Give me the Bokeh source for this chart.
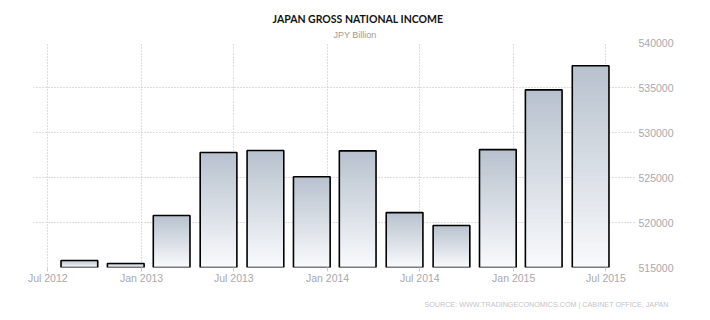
import datetime as dt
import numpy as np
from bokeh.plotting import figure
from bokeh.models import (ColumnDataSource, Range1d, FixedTicker,
                          DatetimeTickFormatter, BasicTickFormatter, Title)
from bokeh.core.properties import value
from bokeh.embed import file_html
from bokeh.resources import INLINE

# ---- data (JPY Billion, quarterly) ----
quarters = ["2012-09-01", "2012-12-01", "2013-03-01", "2013-06-01",
            "2013-09-01", "2013-12-01", "2014-03-01", "2014-06-01",
            "2014-09-01", "2014-12-01", "2015-03-01", "2015-06-01"]
gni = [515780, 515440, 520780, 527780, 528000, 525080,
       527960, 521100, 519670, 528100, 534740, 537410]
x_tick_dates = ["2012-07-01", "2013-01-01", "2013-07-01", "2014-01-01",
                "2014-07-01", "2015-01-01", "2015-07-01"]
y_ticks = [515000, 520000, 525000, 530000, 535000, 540000]

title_text = "JAPAN GROSS NATIONAL INCOME"
subtitle_text = "JPY Billion"
source_text = "SOURCE: WWW.TRADINGECONOMICS.COM | CABINET OFFICE, JAPAN"

# ---- helpers ----
def to_dt(s):
    return dt.datetime.strptime(s, "%Y-%m-%d")

def to_ms(d):
    return (d - dt.datetime(1970, 1, 1)).total_seconds() * 1000.0

x_centers = [to_dt(q) for q in quarters]
bar_days = 72
half = dt.timedelta(days=bar_days / 2)
base = y_ticks[0]

x_start = dt.datetime(2012, 6, 3)
x_end = dt.datetime(2015, 8, 30)

p = figure(width=710, height=320, x_axis_type="datetime",
           y_axis_location="right",
           x_range=Range1d(x_start, x_end),
           y_range=Range1d(y_ticks[0], y_ticks[-1]),
           min_border_left=33, min_border_right=74,
           min_border_top=42, min_border_bottom=53,
           output_backend="svg", toolbar_location=None)
p.outline_line_color = None
p.background_fill_color = "white"
p.border_fill_color = "white"

# ---- gradient bars (per-bar vertical gradient, dark at top) ----
top_rgb = np.array([184, 194, 206])
bot_rgb = np.array([250, 251, 253])
N = 40
lefts, rights, tops, bottoms, colors = [], [], [], [], []
for k in range(N):
    f = k / N
    c = top_rgb + (bot_rgb - top_rgb) * f
    col = "#%02x%02x%02x" % tuple(int(round(v)) for v in c)
    for xc, v in zip(x_centers, gni):
        lefts.append(xc - half)
        rights.append(xc + half)
        bottoms.append(base)
        tops.append(base + (v - base) * (1 - f))
        colors.append(col)
grad = ColumnDataSource(dict(left=lefts, right=rights, top=tops,
                             bottom=bottoms, color=colors))
p.quad(left="left", right="right", top="top", bottom="bottom",
       fill_color="color", line_color=None, source=grad)

outline = ColumnDataSource(dict(left=[x - half for x in x_centers],
                                right=[x + half for x in x_centers],
                                top=gni, bottom=[base] * len(gni)))
p.quad(left="left", right="right", top="top", bottom="bottom",
       fill_color=None, line_color="black", line_width=1.6, source=outline)

# ---- axes ----
xa = p.xaxis[0]
xa.ticker = FixedTicker(ticks=[to_ms(to_dt(s)) for s in x_tick_dates])
xa.formatter = DatetimeTickFormatter(days="%b %Y", months="%b %Y",
                                     years="%b %Y")
xa.axis_line_color = None
xa.major_tick_in = 0
xa.major_tick_out = 4
xa.major_tick_line_color = "#cccccc"
xa.minor_tick_line_color = None
xa.major_label_standoff = 0
xa.major_label_text_color = "#a8a8ae"
xa.major_label_text_font = "Liberation Sans"
xa.major_label_text_font_size = "10.5px"

ya = p.yaxis[0]
ya.ticker = FixedTicker(ticks=y_ticks)
ya.formatter = BasicTickFormatter(use_scientific=False)
ya.axis_line_color = None
ya.major_tick_line_color = None
ya.minor_tick_line_color = None
ya.major_tick_out = 0
ya.major_tick_in = 0
ya.major_label_standoff = 2
ya.major_label_text_color = "#a8a8ae"
ya.major_label_text_font = "Liberation Sans"
ya.major_label_text_font_size = "10.5px"

p.xgrid.ticker = xa.ticker
p.ygrid.ticker = ya.ticker
for g in (p.xgrid[0], p.ygrid[0]):
    g.grid_line_color = "#bdbdbd"
    g.grid_line_dash = "1 2"
    g.grid_line_width = 1

# ---- texts (titles above, source below) ----
p.title = None
p.add_layout(Title(text=subtitle_text, align="left", offset=300,
                   standoff=6, text_font="Liberation Sans",
                   text_font_size="9px", text_font_style="normal",
                   text_color="#9a9a9a"), "above")
p.add_layout(Title(text=title_text, align="left", offset=239,
                   standoff=0, text_font="Lato",
                   text_font_size="10.5px", text_font_style="bold",
                   text_color="#111111"), "above")
p.add_layout(Title(text=source_text, align="right", offset=-32,
                   standoff=22, text_font="Liberation Sans",
                   text_font_size="7.2px", text_font_style="normal",
                   text_color="#c4c4c8"), "below")

open("out.html", "w").write(file_html(p, INLINE))
